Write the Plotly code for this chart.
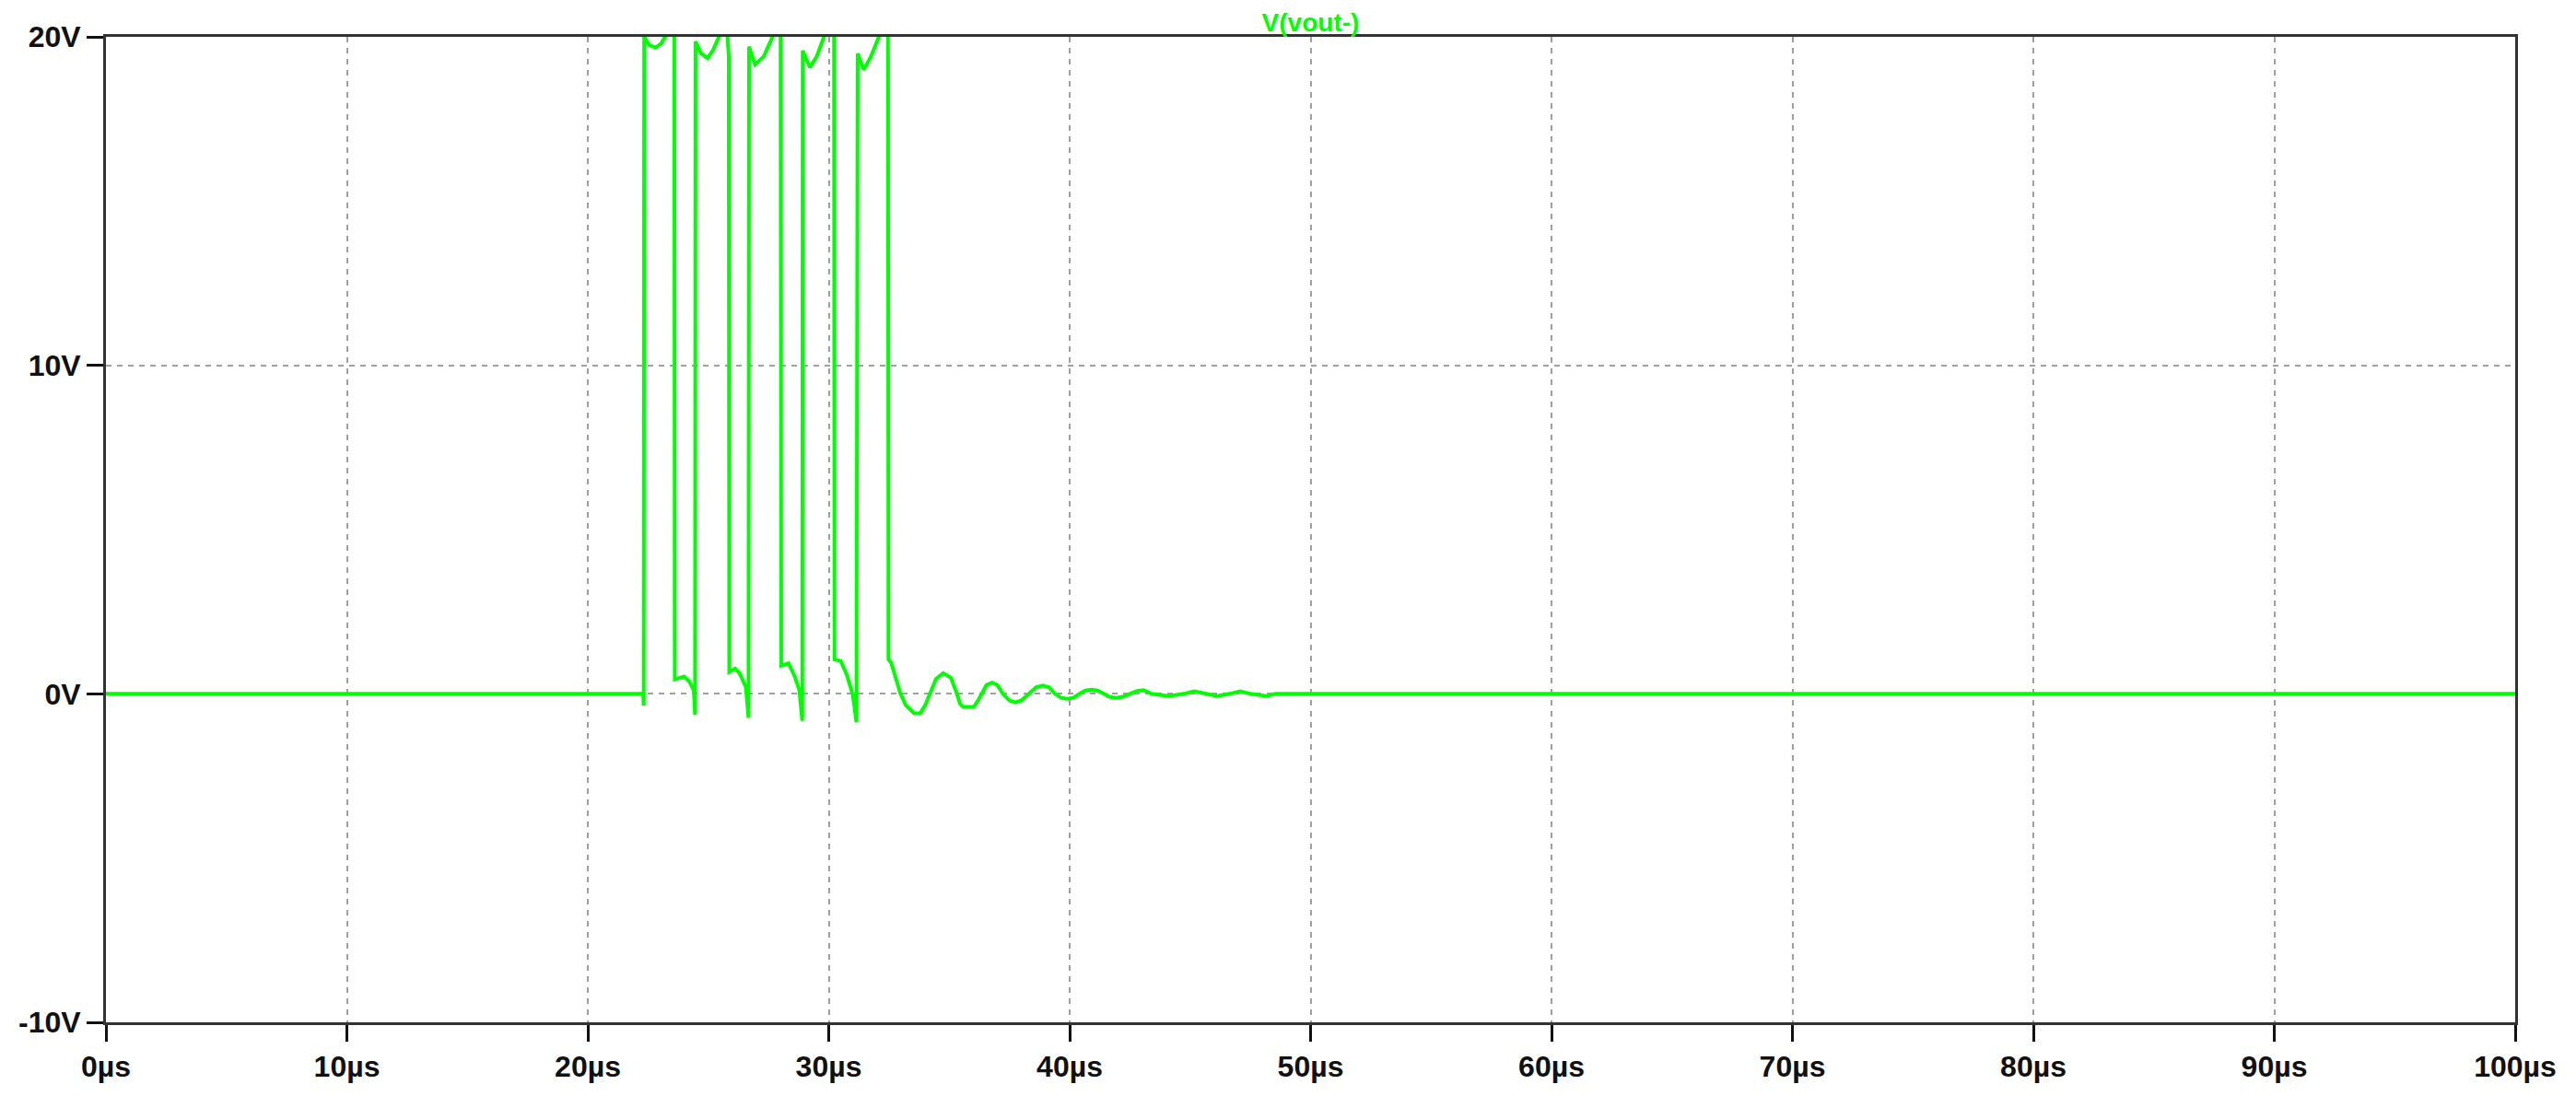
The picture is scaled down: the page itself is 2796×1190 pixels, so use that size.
import plotly.graph_objects as go

# V(vout-) transient
time_us = [
    0, 22.30, 22.32, 22.34, 22.55, 22.81, 23.05, 23.25, 23.45, 23.59,
    23.61, 24.00, 24.20, 24.40, 24.45,
    24.47, 24.70, 24.97, 25.20, 25.47, 25.65, 25.80, 25.85,
    25.87, 26.11, 26.30, 26.56, 26.67,
    26.69, 26.94, 27.30, 27.70, 27.85, 28.00,
    28.03, 28.33, 28.59, 28.78, 28.90,
    28.92, 29.22, 29.50, 29.80, 30.00, 30.22,
    30.24, 30.50, 30.75, 31.00, 31.15,
    31.20, 31.45, 31.75, 32.08, 32.30, 32.46,
    32.48, 32.59, 32.75, 32.97, 33.20, 33.55, 33.80, 34.00, 34.18, 34.45,
    34.75, 35.07, 35.30, 35.45, 35.58, 36.02, 36.20, 36.34, 36.55, 36.79,
    37.00, 37.23, 37.50, 37.74, 38.00, 38.31, 38.60, 38.88, 39.15, 39.39,
    39.65, 39.90, 40.15, 40.41, 40.65, 40.91, 41.15, 41.42, 41.65, 41.93,
    42.20, 42.50, 42.80, 43.07, 43.40, 44.09, 44.73, 45.17, 45.62, 46.12,
    46.63, 47.08, 47.52, 48.16, 48.54, 100,
]
vout = [
    0, 0, -0.36, 20.0, 19.75, 19.67, 19.8, 20.05, 20.3, 20.2,
    0.44, 0.53, 0.39, 0.11, -0.64,
    19.86, 19.5, 19.35, 19.6, 20.05, 20.4, 20.0, 19.4,
    0.67, 0.77, 0.63, 0.21, -0.73,
    19.7, 19.16, 19.4, 20.05, 20.4, 20.2,
    0.86, 0.93, 0.53, 0.11, -0.82,
    19.58, 19.07, 19.4, 20.05, 20.4, 20.1,
    1.05, 1.0, 0.58, -0.03, -0.87,
    19.49, 19.0, 19.4, 20.05, 20.4, 20.2,
    1.05, 0.95, 0.55, 0.02, -0.35, -0.59, -0.59, -0.35, -0.03, 0.45,
    0.63, 0.49, 0.05, -0.30, -0.40, -0.40, -0.20, 0.0, 0.27, 0.34,
    0.27, 0.0, -0.20, -0.26, -0.20, 0.0, 0.20, 0.25, 0.20, 0.0,
    -0.12, -0.15, -0.12, 0.0, 0.10, 0.13, 0.10, 0.0, -0.09, -0.12,
    -0.09, 0.0, 0.09, 0.11, 0.0, -0.07, 0.0, 0.08, 0.0, -0.07,
    0.0, 0.08, 0.0, -0.07, 0.0, 0,
]

x_ticks = [0, 10, 20, 30, 40, 50, 60, 70, 80, 90, 100]
x_labels = [f"{t}µs" for t in x_ticks]
y_ticks = [-10, 0, 10, 20]
y_labels = [f"{t}V" for t in y_ticks]

green = "#00ff00"
font = "Liberation Sans, Arial, sans-serif"

fig = go.Figure(go.Scatter(
    x=time_us, y=vout, mode="lines",
    line=dict(color=green, width=4),
    hoverinfo="skip",
))

axis_common = dict(
    showline=True, mirror=True, linecolor="#333333", linewidth=3,
    ticks="outside", ticklen=18, tickwidth=3, tickcolor="#111111",
    showgrid=True, gridcolor="#a0a0a0", gridwidth=2, griddash="6px,6px",
    zeroline=False, tickmode="array",
    tickfont=dict(family=font, size=32, color="#111111", weight="bold"),
)

# the page body adds an 8px offset, so margins are trimmed to match
fig.update_layout(
    width=2796, height=1190,
    margin=dict(l=99, r=74, t=32, b=88),
    plot_bgcolor="white", paper_bgcolor="white",
    showlegend=False,
    xaxis=dict(range=[0, 100], tickvals=x_ticks, ticktext=x_labels, **axis_common),
    yaxis=dict(range=[-10, 20], tickvals=y_ticks, ticktext=y_labels, **axis_common),
    title=dict(
        text="V(vout-)", x=0.5, xref="paper", y=1 - 16 / 1190, yanchor="middle",
        font=dict(family=font, size=28, color=green, weight="bold"),
    ),
)

fig.write_html("out.html")
